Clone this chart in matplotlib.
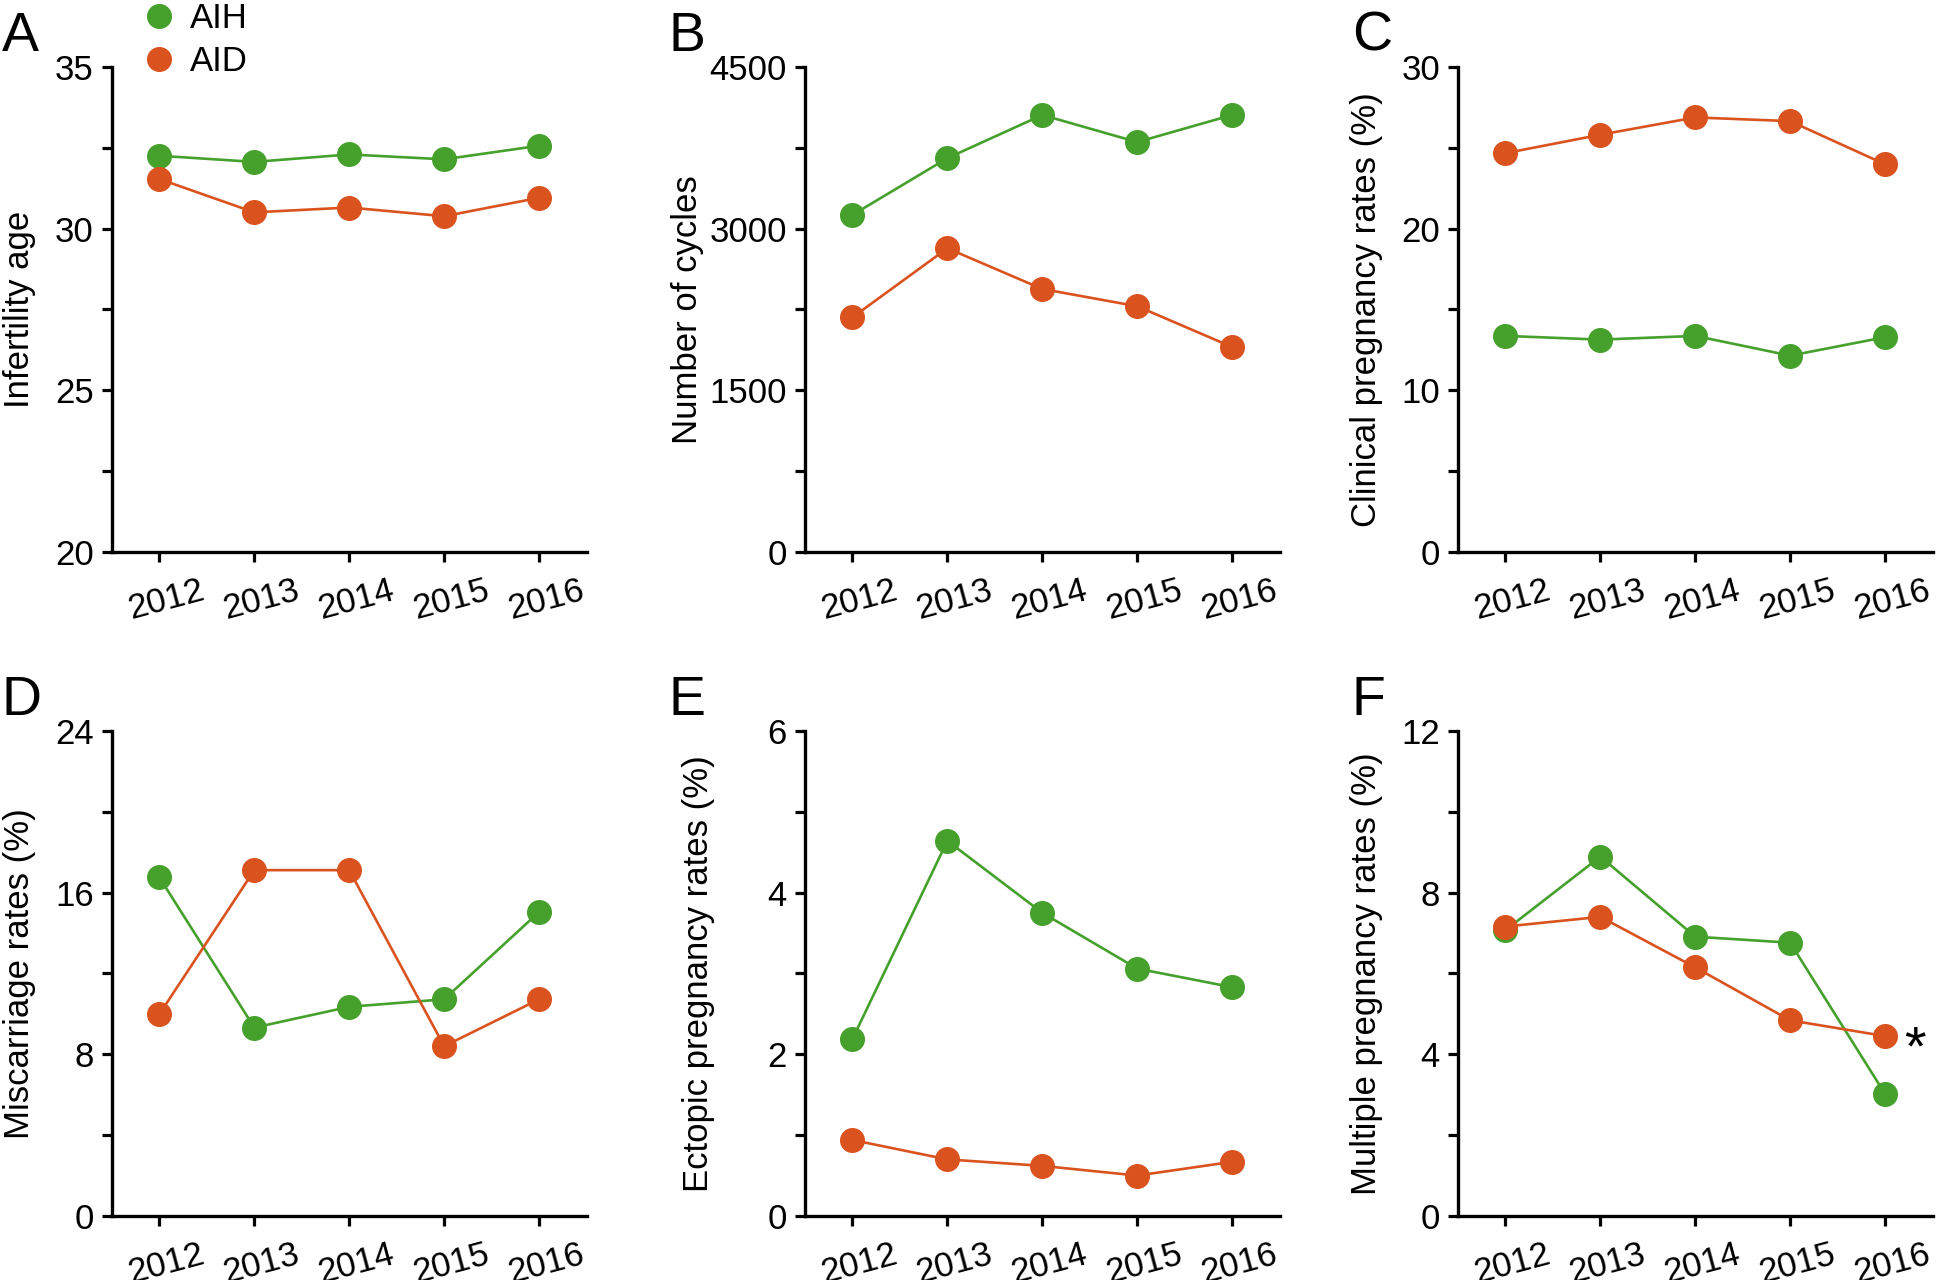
import matplotlib
matplotlib.use("Agg")
import matplotlib.pyplot as plt
from matplotlib.ticker import MultipleLocator
from matplotlib.transforms import ScaledTranslation

plt.rcParams['font.family'] = ['Liberation Sans', 'DejaVu Sans']

years = [2012, 2013, 2014, 2015, 2016]

# Infertility age
age_aih = [32.25, 32.06, 32.29, 32.14, 32.56]
age_aid = [31.53, 30.50, 30.65, 30.38, 30.95]

# Number of cycles
cycles_aih = [3126, 3653, 4053, 3802, 4053]
cycles_aid = [2176, 2817, 2439, 2279, 1901]

# Clinical pregnancy rates (%)
clin_aih = [13.36, 13.13, 13.36, 12.14, 13.28]
clin_aid = [24.66, 25.80, 26.87, 26.64, 23.97]

# Miscarriage rates (%)
misc_aih = [16.75, 9.32, 10.35, 10.72, 15.04]
misc_aid = [9.99, 17.11, 17.11, 8.40, 10.72]

# Ectopic pregnancy rates (%)
ect_aih = [2.19, 4.64, 3.75, 3.06, 2.83]
ect_aid = [0.94, 0.70, 0.62, 0.50, 0.67]

# Multiple pregnancy rates (%)
mult_aih = [7.07, 8.89, 6.91, 6.76, 3.02]
mult_aid = [7.16, 7.40, 6.15, 4.84, 4.45]

GREEN = "#45a02c"
ORANGE = "#da531f"

panels = [
    ("A", "Infertility age", age_aih, age_aid, (20, 35), 5, -0.16),
    ("B", "Number of cycles", cycles_aih, cycles_aid, (0, 4500), 1500, -0.212),
    ("C", "Clinical pregnancy rates (%)", clin_aih, clin_aid, (0, 30), 10, -0.158),
    ("D", "Miscarriage rates (%)", misc_aih, misc_aid, (0, 24), 8, -0.16),
    ("E", "Ectopic pregnancy rates (%)", ect_aih, ect_aid, (0, 6), 2, -0.19),
    ("F", "Multiple pregnancy rates (%)", mult_aih, mult_aid, (0, 12), 4, -0.158),
]
letter_x = [-0.232, -0.287, -0.224]

lefts = [0.0578, 0.4156, 0.7527]
bottoms = [0.5688, 0.05]
w, h = 0.245, 0.379

fig = plt.figure(figsize=(19.37, 12.8), dpi=100)
shift = ScaledTranslation(7 / 100, 0, fig.dpi_scale_trans)

axes = []
for i, (letter, ylabel, aih, aid, ylim, step, lx) in enumerate(panels):
    r, c = divmod(i, 3)
    ax = fig.add_axes([lefts[c], bottoms[r], w, h])
    axes.append(ax)
    ax.plot(years, aih, color=GREEN, lw=1.9, marker="o", ms=17, clip_on=False,
            zorder=3, label="AIH")
    ax.plot(years, aid, color=ORANGE, lw=1.9, marker="o", ms=17, clip_on=False,
            zorder=3, label="AID")
    ax.set_xlim(2011.5, 2016.5)
    ax.set_ylim(*ylim)
    ax.yaxis.set_major_locator(MultipleLocator(step))
    ax.yaxis.set_minor_locator(MultipleLocator(step / 2))
    ax.set_xticks(years)
    ax.set_xticklabels([str(y) for y in years], rotation=15, ha="center")
    for s in ["top", "right"]:
        ax.spines[s].set_visible(False)
    for s in ["left", "bottom"]:
        ax.spines[s].set_linewidth(2.4)
    ax.tick_params(which="both", direction="out", length=7, width=2.3,
                   labelsize=25, pad=6)
    ax.tick_params(axis="x", pad=9)
    for lab in ax.get_xticklabels():
        lab.set_transform(lab.get_transform() + shift)
    ax.set_ylabel(ylabel, fontsize=25)
    ax.yaxis.set_label_coords(lx, 0.5)
    ax.text(letter_x[c], 1.033, letter, transform=ax.transAxes,
            fontsize=40, ha="left", va="baseline")

# legend in panel A
axes[0].legend(loc="upper left", bbox_to_anchor=(0.04, 1.17), frameon=False,
               fontsize=25, handlelength=0.6, handletextpad=0.6,
               labelspacing=0.3, borderpad=0)
for line in axes[0].get_legend().get_lines():
    line.set_linestyle("none")

# significance mark in panel F
axes[5].annotate("*", xy=(2016, mult_aid[-1]), xytext=(14, -10),
                 textcoords="offset points", fontsize=40, ha="left", va="center",
                 annotation_clip=False)

fig.savefig("out.png", dpi=100)
